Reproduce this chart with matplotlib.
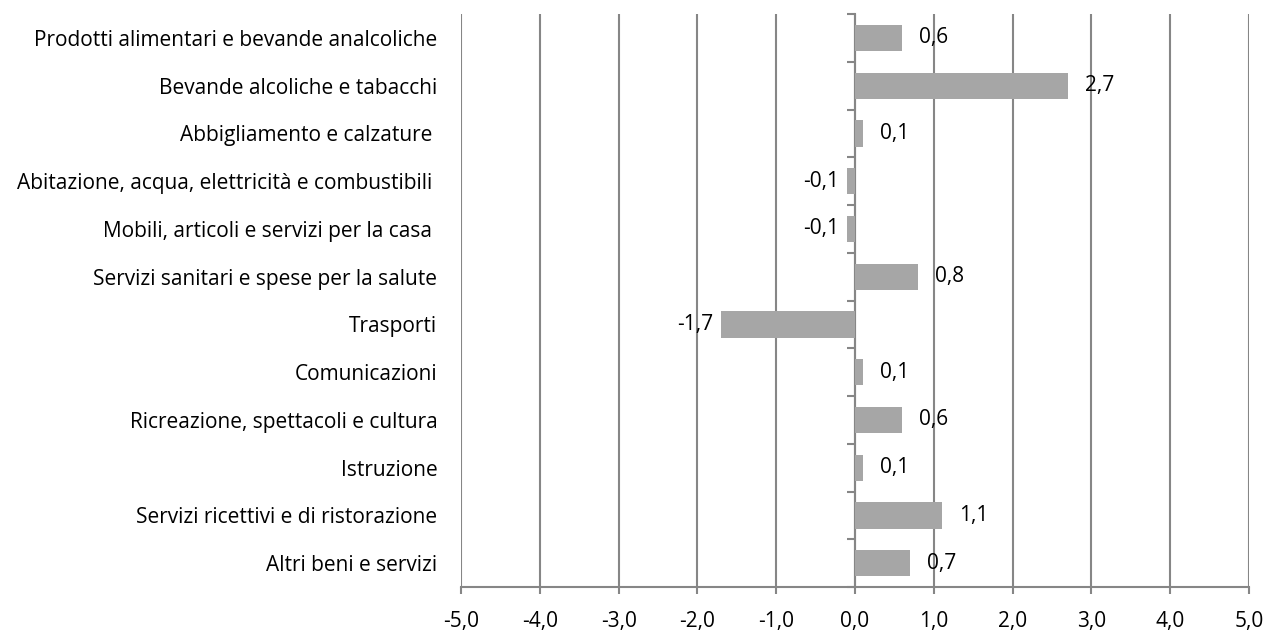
import matplotlib

matplotlib.use("Agg")
import matplotlib.pyplot as plt
import numpy as np

plt.rcParams["font.family"] = ["Open Sans", "DejaVu Sans"]

CATEGORIES = [
    "Prodotti alimentari e bevande analcoliche",
    "Bevande alcoliche e tabacchi",
    "Abbigliamento e calzature ",
    "Abitazione, acqua, elettricità e combustibili ",
    "Mobili, articoli e servizi per la casa ",
    "Servizi sanitari e spese per la salute",
    "Trasporti",
    "Comunicazioni",
    "Ricreazione, spettacoli e cultura",
    "Istruzione",
    "Servizi ricettivi e di ristorazione",
    "Altri beni e servizi",
]
VALUES = [0.6, 2.7, 0.1, -0.1, -0.1, 0.8, -1.7, 0.1, 0.6, 0.1, 1.1, 0.7]
X_TICKS = [-5, -4, -3, -2, -1, 0, 1, 2, 3, 4, 5]

BAR_COLOR = "#a6a6a6"
AXIS_COLOR = "#868686"
FS = 15


def fmt(v):
    return f"{v:.1f}".replace(".", ",")


fig = plt.figure(figsize=(12.65, 6.32), dpi=100)
ax = fig.add_axes([0.3644, 0.0712, 0.9874 - 0.3644, 0.9778 - 0.0712])

y = np.arange(len(CATEGORIES))
ax.barh(y, VALUES, height=0.55, color=BAR_COLOR, zorder=3)

ax.set_xlim(-5, 5)
ax.set_ylim(len(CATEGORIES) - 0.5, -0.5)
ax.set_xticks(X_TICKS)
ax.set_xticklabels([fmt(t) for t in X_TICKS], fontsize=FS)
ax.set_yticks(y)
ax.set_yticklabels(CATEGORIES, fontsize=FS)
ax.tick_params(axis="y", length=0, pad=17)
ax.tick_params(axis="x", length=5, width=1.5, color=AXIS_COLOR, pad=12)

ax.grid(axis="x", color=AXIS_COLOR, linewidth=1.5, zorder=0)
for side in ["top", "right", "left"]:
    ax.spines[side].set_visible(False)
ax.spines["bottom"].set_color(AXIS_COLOR)
ax.spines["bottom"].set_linewidth(1.5)

# category axis crossing at 0, ticks at the band edges pointing left
zero_ax = ax.secondary_yaxis(0.5)
zero_ax.set_alignment("left")
zero_ax.set_yticks(np.arange(len(CATEGORIES) + 1) - 0.5)
zero_ax.set_yticklabels([])
zero_ax.spines["left"].set_color(AXIS_COLOR)
zero_ax.spines["left"].set_linewidth(1.5)
zero_ax.tick_params(axis="y", direction="out", length=6, width=1.5,
                    color=AXIS_COLOR)

for yi, v in zip(y, VALUES):
    off = 17 if v >= 0 else -8
    ax.annotate(fmt(v), (v, yi), xytext=(off, 0), textcoords="offset pixels",
                ha="left" if v >= 0 else "right", va="center", fontsize=FS,
                zorder=4)

fig.savefig("out.png", dpi=100)
